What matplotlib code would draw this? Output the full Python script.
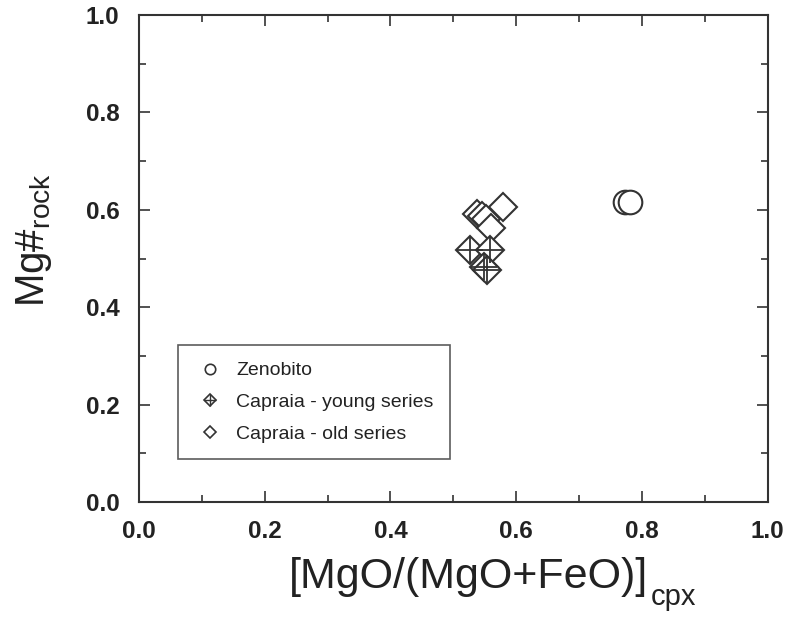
import matplotlib
matplotlib.use('Agg')
import matplotlib.pyplot as plt
from matplotlib.legend_handler import HandlerTuple
from matplotlib.ticker import MultipleLocator

plt.rcParams['font.family'] = ['Liberation Sans', 'DejaVu Sans']
plt.rcParams['mathtext.fontset'] = 'custom'
plt.rcParams['mathtext.rm'] = 'Liberation Sans'

# data
zeno_x = [0.773, 0.781]
zeno_y = [0.617, 0.617]

young_x = [0.527, 0.558, 0.548, 0.553]
young_y = [0.518, 0.518, 0.482, 0.477]

old_x = [0.538, 0.545, 0.552, 0.579, 0.560]
old_y = [0.592, 0.588, 0.582, 0.606, 0.563]

ink = '#333333'
txt = '#222222'
W, H = 785, 623

fig = plt.figure(figsize=(7.85, 6.23), dpi=100)
ax = fig.add_axes([0.177, 0.194, 0.801, 0.782])

ax.plot(zeno_x, zeno_y, 'o', ms=17, mfc='white', mec=ink, mew=1.5, ls='none')
ax.plot(old_x, old_y, 'D', ms=14, mfc='white', mec=ink, mew=1.5, ls='none')
ax.plot(young_x, young_y, 'D', ms=14, mfc='white', mec=ink, mew=1.5, ls='none')
ax.plot(young_x, young_y, '+', ms=19, mec=ink, mew=1.3, ls='none')

ax.set_xlim(0, 1)
ax.set_ylim(0, 1)
ax.xaxis.set_major_locator(MultipleLocator(0.2))
ax.xaxis.set_minor_locator(MultipleLocator(0.1))
ax.yaxis.set_major_locator(MultipleLocator(0.2))
ax.yaxis.set_minor_locator(MultipleLocator(0.1))
ax.tick_params(which='both', direction='in', top=True, right=True, color=ink, width=1.2,
               labelsize=17.5, labelcolor=txt)
ax.tick_params(which='major', length=8)
ax.tick_params(which='minor', length=5)
ax.tick_params(axis='x', pad=13)
ax.tick_params(axis='y', pad=14)
for lab in ax.get_xticklabels() + ax.get_yticklabels():
    lab.set_fontweight('bold')
for s in ax.spines.values():
    s.set_color(ink)
    s.set_linewidth(1.5)

# x title: main part + lowered subscript
xt = fig.text(289 / W, 1 - 588 / H, '[MgO/(MgO+FeO)]', fontsize=31, color=txt,
              ha='left', va='baseline')
fig.canvas.draw()
bb = xt.get_window_extent()
fig.text((bb.x1 + 2) / W, 1 - 605 / H, 'cpx', fontsize=21, color=txt,
         ha='left', va='baseline')

# y title
fig.text(34 / W, 1 - 240 / H, r'Mg#$_{\mathregular{rock}}$',
         fontsize=29, color=txt, ha='center', va='center', rotation=90)

# legend handles
h1, = ax.plot([], [], 'o', ms=7.5, mfc='white', mec=ink, mew=1.2)
h2a, = ax.plot([], [], 'D', ms=6.5, mfc='white', mec=ink, mew=1.2)
h2b, = ax.plot([], [], '+', ms=9, mec=ink, mew=1.0)
h3, = ax.plot([], [], 'D', ms=6.5, mfc='white', mec=ink, mew=1.2)
leg = ax.legend([h1, (h2a, h2b), h3],
                ['Zenobito', 'Capraia - young series', 'Capraia - old series'],
                handler_map={tuple: HandlerTuple(ndivide=1, pad=0)},
                loc='upper left', bbox_to_anchor=(0.062, 0.322),
                fontsize=14, frameon=True, fancybox=False, handlelength=1.6,
                handletextpad=0.55, labelspacing=0.72, borderpad=0.85,
                borderaxespad=0)
leg.get_frame().set_edgecolor(ink)
leg.get_frame().set_linewidth(1.2)
for t in leg.get_texts():
    t.set_color(txt)

fig.savefig('out.png', dpi=100)
